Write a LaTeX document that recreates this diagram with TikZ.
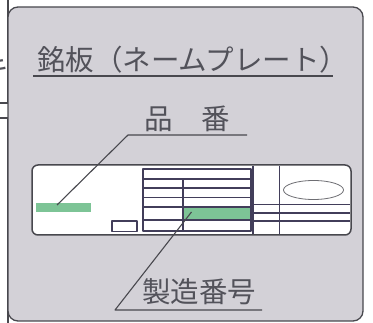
\documentclass[tikz,border=0pt]{standalone}
\usepackage{fontspec}
\newfontfamily\jp{Noto Sans CJK JP}
\definecolor{panelc}{RGB}{211,209,215}
\definecolor{linec}{RGB}{72,72,78}
\definecolor{textc}{RGB}{82,82,90}
\definecolor{greenc}{RGB}{125,196,150}
\definecolor{tabc}{RGB}{66,62,90}
\definecolor{ellc}{RGB}{110,110,115}
\begin{document}
\begin{tikzpicture}[x=1pt,y=-1pt,line join=round,
  outline/.style={draw=linec,line width=1.3pt},
  lbl/.style={font=\jp\fontsize{28.5}{30}\selectfont,text=textc,inner sep=0pt,anchor=base west},
  leader/.style={draw=linec,line width=1.1pt},
  tline/.style={draw=tabc,line width=1.1pt},
  greenbar/.style={fill=greenc,draw=none,inner sep=0pt}]
\useasboundingbox (0,0) rectangle (373,323);
% cropped neighbour boxes at the left
\draw[outline,fill=white] (-5,-5) rectangle (8,103);
\node[lbl,anchor=base east] (ki) at (9.5,79) {キ};
\draw[outline,fill=white] (-5,118) rectangle (8,330);
% panel
\draw[outline,fill=panelc,rounded corners=10pt] (8,7) rectangle (363,321);
% title
\node[lbl] (title) at (37,71) {銘板（ネームプレート）};
\coordinate (t1) at (33,76);
\coordinate (t2) at (333,76);
\draw[leader] (t1) -- (t2);
% name plate
\draw[outline,line width=1.5pt,fill=white,rounded corners=6pt] (32,165) rectangle (351,235);
% green bars
\fill[greenc] (36,203.5) rectangle (90.5,211.7);
\coordinate (g1) at (57,205);
\fill[greenc] (183,207.5) rectangle (251,219.5);
\coordinate (g2) at (191.5,212);
% small box
\draw[tline] (112,221) rectangle (137,231.5);
% table
\draw[tline] (143,169) rectangle (251,231);
\foreach \yy in {179,188,197.5,207,220}{\draw[tline] (143,\yy) -- (251,\yy);}
\draw[tline] (183,179) -- (183,231);
% right section
\draw[tline] (253,166) -- (253,234);
\draw[tline] (279.5,166) -- (279.5,234);
\foreach \yy in {204.5,213,221}{\draw[tline] (253,\yy) -- (350,\yy);}
\draw[draw=ellc,line width=0.8pt] (313.5,190) ellipse [x radius=30pt,y radius=9.5pt];
% labels with leaders
\node[lbl] (hin) at (144,130) {品　番};
\coordinate (h1) at (247,135);
\coordinate (h2) at (128,135);
\draw[leader] (h1) -- (h2) -- (g1);
\node[lbl] (sei) at (142,303) {製造番号};
\coordinate (s1) at (115,310);
\coordinate (s2) at (262,310);
\draw[leader] (g2) -- (s1) -- (s2);
\end{tikzpicture}
\end{document}
